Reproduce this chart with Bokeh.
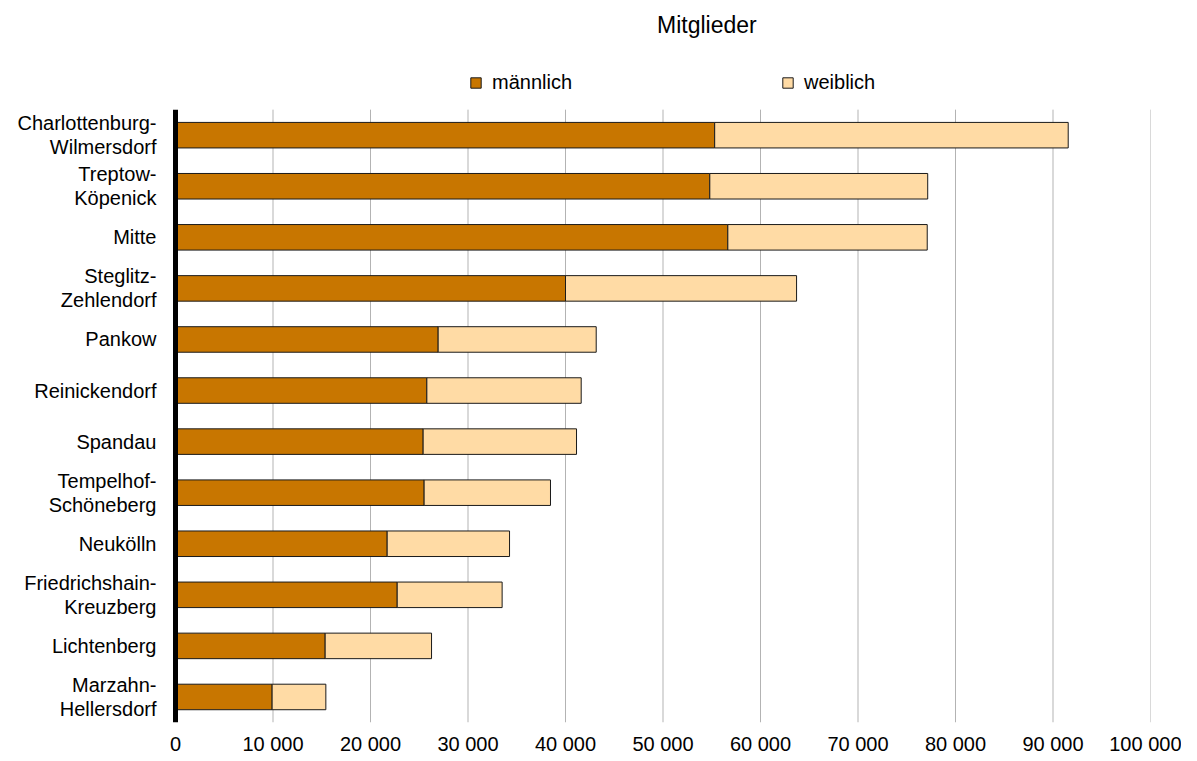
from bokeh.plotting import figure
from bokeh.models import ColumnDataSource, FactorRange, Range1d, FixedTicker, Label
from bokeh.core.properties import value
from bokeh.embed import file_html
from bokeh.resources import INLINE

districts = ["Charlottenburg-Wilmersdorf", "Treptow-Köpenick", "Mitte", "Steglitz-Zehlendorf",
             "Pankow", "Reinickendorf", "Spandau", "Tempelhof-Schöneberg", "Neukölln",
             "Friedrichshain-Kreuzberg", "Lichtenberg", "Marzahn-Hellersdorf"]
district_labels = ["Charlottenburg-\nWilmersdorf", "Treptow-\nKöpenick", "Mitte", "Steglitz-\nZehlendorf",
                   "Pankow", "Reinickendorf", "Spandau", "Tempelhof-\nSchöneberg", "Neukölln",
                   "Friedrichshain-\nKreuzberg", "Lichtenberg", "Marzahn-\nHellersdorf"]
maennlich = [55300, 54800, 56650, 40000, 26940, 25780, 25400, 25500, 21710, 22740, 15350, 9910]
gesamt = [91560, 77150, 77100, 63700, 43150, 41610, 41130, 38460, 34260, 33500, 26260, 15420]
weiblich = [g - m for g, m in zip(gesamt, maennlich)]
series = ["männlich", "weiblich"]
colors = ["#C87600", "#FFDBA5"]
ticks = [0, 10000, 20000, 30000, 40000, 50000, 60000, 70000, 80000, 90000, 100000]
tick_labels = ["0", "10 000", "20 000", "30 000", "40 000", "50 000", "60 000", "70 000",
               "80 000", "90 000", "100 000"]
title_text = "Mitglieder"

FONT = "Liberation Sans"

source = ColumnDataSource(dict(district=districts, männlich=maennlich, weiblich=weiblich,
                               label=district_labels))

# two empty rows on top of the category range hold the legend and the title
factors = list(reversed(districts)) + ["_legend", "_title"]

p = figure(frame_width=1143, frame_height=715,
           y_range=FactorRange(*factors),
           x_range=Range1d(-17231, 100000),
           output_backend="svg", toolbar_location=None,
           min_border_left=7, min_border_right=31, min_border_top=7, min_border_bottom=30,
           outline_line_color=None, background_fill_color="white", border_fill_color="white")

# vertical grid lines (only across the bar area)
n = len(districts)
p.segment(x0=ticks[1:], y0=[0] * (len(ticks) - 1), x1=ticks[1:], y1=[n] * (len(ticks) - 1),
          line_color="#b3b3b3", line_width=1)

p.hbar_stack(series, y="district", height=0.5, color=colors, line_color="#1a1a1a",
             line_width=1, source=source, legend_label=series)

# thick value axis line at 0
p.segment(x0=[0], y0=[0], x1=[0], y1=[n], line_color="black", line_width=5)

# category labels
p.text(x=-1950, y="district", text="label", source=source, text_align="right",
       text_baseline="middle", text_font=value(FONT), text_font_size="20px",
       text_color="black", text_line_height=1.1)

# x axis
p.xaxis.ticker = FixedTicker(ticks=ticks)
p.xaxis.major_label_overrides = {t: l for t, l in zip(ticks, tick_labels)}
p.xaxis.axis_line_color = None
p.xaxis.major_tick_line_color = None
p.xaxis.minor_tick_line_color = None
p.xaxis.major_label_standoff = 4
p.xaxis.major_label_text_font = FONT
p.xaxis.major_label_text_font_size = "20px"
p.xaxis.major_label_text_color = "black"

p.yaxis.visible = False
p.xgrid.grid_line_color = None
p.ygrid.grid_line_color = None

# legend
lg = p.legend[0]
lg.orientation = "horizontal"
lg.location = (462, 628)
lg.padding = 0
lg.margin = 0
lg.spacing = 209
lg.label_standoff = 10
lg.glyph_width = 13
lg.glyph_height = 13
lg.label_text_font = FONT
lg.label_text_font_size = "20px"
lg.label_text_color = "black"
lg.border_line_color = None
lg.background_fill_alpha = 0

# title
p.add_layout(Label(x=54500, y=698, x_units="data", y_units="screen", text=title_text,
                   text_align="center", text_baseline="middle", text_font=FONT,
                   text_font_size="23px", text_color="black"))

open("out.html", "w").write(file_html(p, INLINE))
